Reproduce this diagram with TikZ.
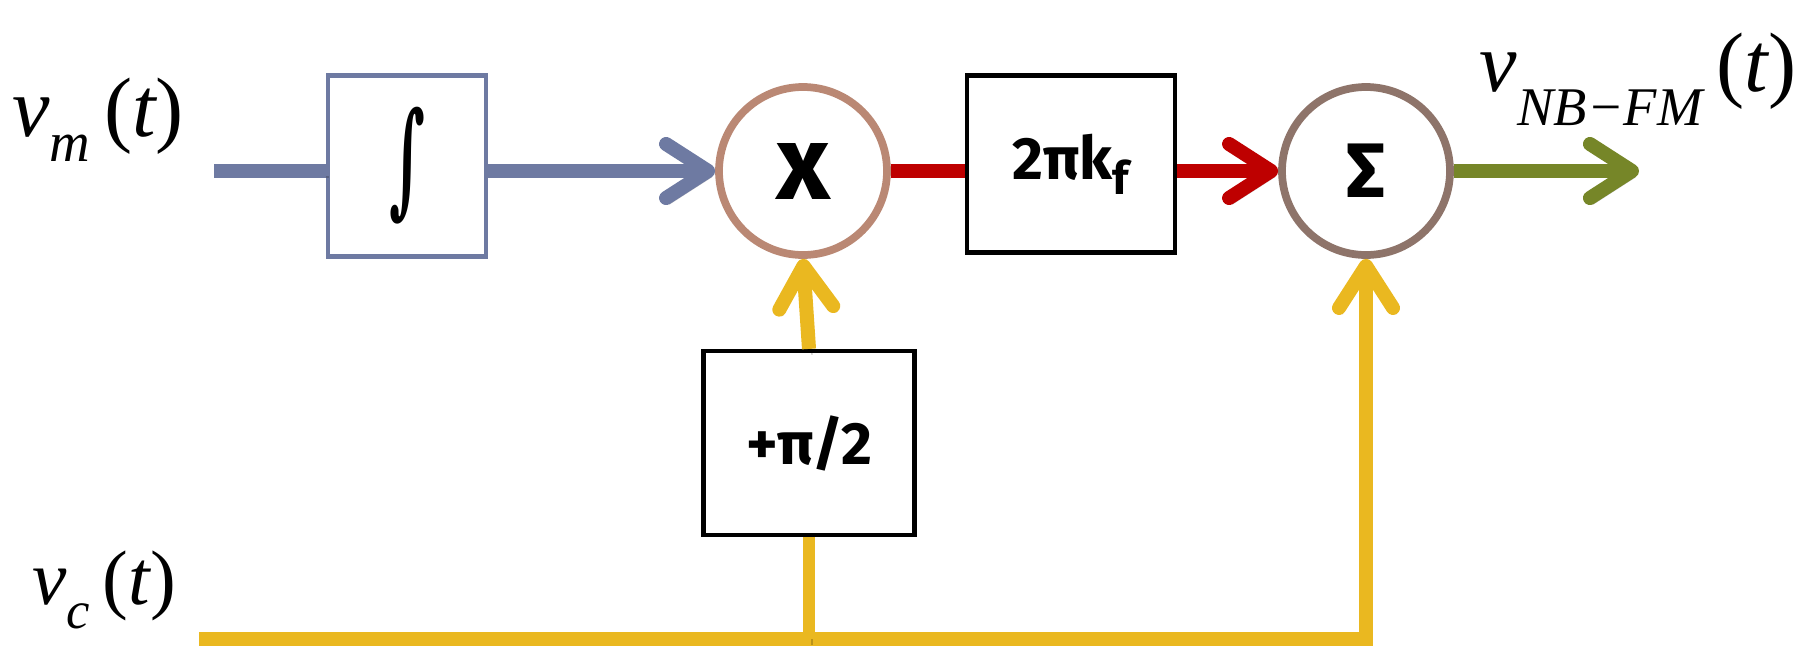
\documentclass[tikz,border=0pt]{standalone}
\usepackage{tikz,amsmath,amssymb,graphicx}
\usepackage{fontspec}
\newfontfamily\blkfont{Fira Sans}
\newfontfamily\lblfont{Liberation Serif}
\newfontfamily\intfont{DejaVu Serif}
\usetikzlibrary{arrows.meta}
\definecolor{sigblue}{RGB}{110,122,162}\definecolor{sigred}{RGB}{190,0,0}
\definecolor{siggreen}{RGB}{118,134,40}\definecolor{sigyellow}{RGB}{234,184,32}
\definecolor{ringA}{RGB}{186,136,116}\definecolor{ringB}{RGB}{142,116,106}
\tikzset{barb/.tip={Straight Barb[length=4.2mm,width=5.4mm,round]},
  shad/.style={preaction={draw=black,draw opacity=.2,transform canvas={shift={(0.03,-0.06)}}}},
  sig/.style={line width=4pt,shad},
  blk/.style={draw,line width=1.2pt,inner sep=0pt,font=\blkfont\bfseries\fontsize{17}{17}\selectfont},
  ring/.style={circle,draw,line width=2.2pt,minimum size=1.68cm,inner sep=0pt,font=\blkfont\bfseries},
  lbl/.style={inner sep=0pt,font=\lblfont\itshape\fontsize{#1}{#1}\selectfont}}
\begin{document}
\begin{tikzpicture}
\useasboundingbox(0,0)rectangle(18.16,6.57);
\node[blk,draw=sigblue,minimum width=1.58cm,minimum height=1.81cm](int)at(4.07,4.91){\resizebox*{0.36cm}{1.17cm}{\intfont ∫}};
\node[ring,draw=ringA,font=\blkfont\bfseries\fontsize{30}{30}\selectfont](mul)at(8.03,4.86){x};
\node[blk,minimum width=2.08cm,minimum height=1.77cm](gain)at(10.71,4.93){2πk\raisebox{-0.25em}{\fontsize{13}{13}\selectfont f}};
\node[ring,draw=ringB,font=\blkfont\bfseries\fontsize{22}{22}\selectfont](sum)at(13.66,4.86){Σ};
\node[blk,minimum width=2.11cm,minimum height=1.84cm](phase)at(8.09,2.14){+π/2};
\coordinate(vin)at(2.14,4.86);\coordinate(vout)at(16.39,4.86);\coordinate(cin)at(1.99,0.18);
\node[lbl=24](vm)at(0.98,5.37){v\raisebox{-0.3em}{\fontsize{16}{16}\selectfont m}\,\upshape(\itshape t\upshape)};
\node[lbl=22](vc)at(1.04,0.67){v\raisebox{-0.3em}{\fontsize{15}{15}\selectfont c}\,\upshape(\itshape t\upshape)};
\node[lbl=24](vfm)at(16.38,5.78){v\raisebox{-0.4em}{\fontsize{15.5}{16}\selectfont NB−FM}\,\upshape(\itshape t\upshape)};
\draw[sig,sigblue](vin)--(int.west|-vin);\draw[sig,sigblue,-barb](int.east|-vin)--(mul.west);
\draw[sig,sigred](mul.east)--(gain.west|-mul);\draw[sig,sigred,-barb](gain.east|-mul)--(sum.west);
\draw[sig,siggreen,-barb](sum.east)--(vout);
\draw[sig,sigyellow,-barb](cin)--(sum.south|-cin)--(sum.south);
\draw[sig,sigyellow,line width=3.2pt](phase.south|-cin)--(phase.south);\draw[sig,sigyellow,-barb](phase.north)--(mul.south);
\end{tikzpicture}
\end{document}
